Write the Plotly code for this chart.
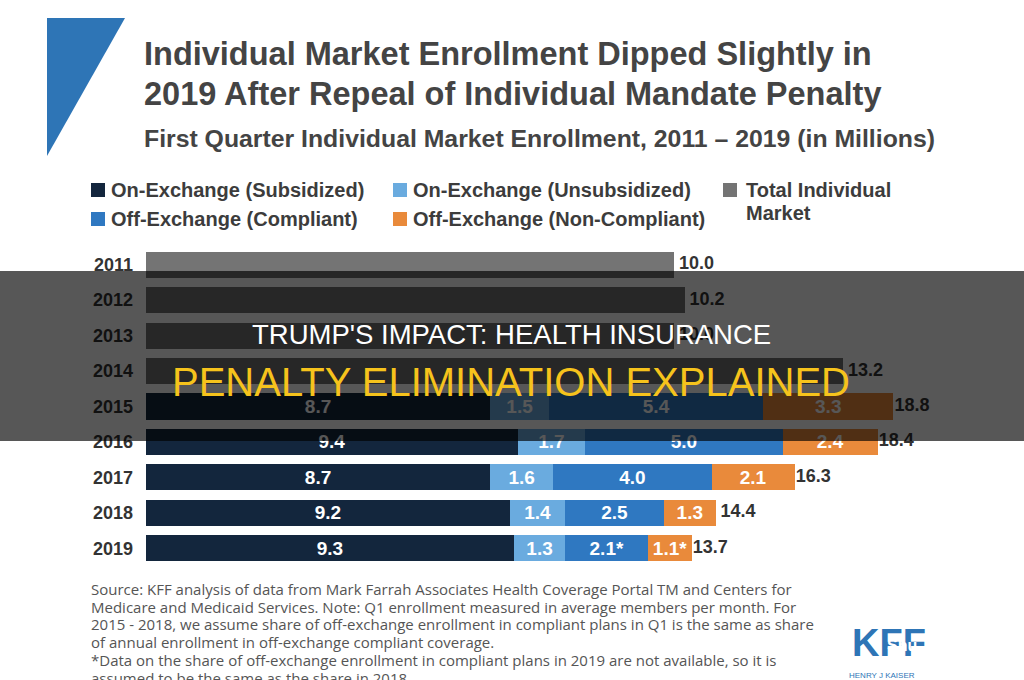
import plotly.graph_objects as go

# ---------------- data ----------------
years = ["2011", "2012", "2013", "2014", "2015", "2016", "2017", "2018", "2019"]
total_only_years = ["2011", "2012", "2013", "2014"]
total_only = [10.0, 10.2, 10.0, 13.2]

stack_years = ["2015", "2016", "2017", "2018", "2019"]
on_sub = [8.7, 9.4, 8.7, 9.2, 9.3]
on_unsub = [1.5, 1.7, 1.6, 1.4, 1.3]
off_comp = [5.4, 5.0, 4.0, 2.5, 2.1]
off_noncomp = [3.3, 2.4, 2.1, 1.3, 1.1]
stack_totals = [18.8, 18.4, 16.3, 14.4, 13.7]
est_flag = ["", "", "", "", "*"]  # 2019 values assumed

series_names = ["On-Exchange (Subsidized)", "On-Exchange (Unsubsidized)",
                "Off-Exchange (Compliant)", "Off-Exchange (Non-Compliant)"]
total_name = "Total Individual Market"

title1 = "Individual Market Enrollment Dipped Slightly in"
title2 = "2019 After Repeal of Individual Mandate Penalty"
subtitle = "First Quarter Individual Market Enrollment, 2011 \u2013 2019 (in Millions)"
notes = [
    "Source: KFF analysis of data from Mark Farrah Associates Health Coverage Portal TM and Centers for",
    "Medicare and Medicaid Services. Note: Q1 enrollment measured in average members per month. For",
    "2015 - 2018, we assume share of off-exchange enrollment in compliant plans in Q1 is the same as share",
    "of annual enrollment in off-exchange compliant coverage.",
    "*Data on the share of off-exchange enrollment in compliant plans in 2019 are not available, so it is",
    "assumed to be the same as the share in 2018.",
]
banner1 = "TRUMP'S IMPACT: HEALTH INSURANCE"
banner2 = "PENALTY ELIMINATION EXPLAINED"

# ---------------- style ----------------
W, H = 1024, 680
L, R, T, B = 146, 78, 247, 114
PW, PH = W - L - R, H - T - B
colors = ["#13263d", "#6aabdf", "#2f78c1", "#e98a3b"]
gray = "#747474"
FONT = "Liberation Sans, Arial, sans-serif"
NOTE_FONT = "Open Sans, Liberation Sans, sans-serif"
NB = "\u00a0"


def px(x):
    return (x - L) / PW


def py(y):
    return 1 - (y - T) / PH


fig = go.Figure()

# gray total bars (own scale, as in the original graphic)
fig.add_trace(go.Bar(
    y=total_only_years, x=total_only, orientation="h", xaxis="x2", yaxis="y",
    marker=dict(color=gray, line=dict(width=0)), name=total_name, showlegend=False,
))
fig.add_trace(go.Scatter(
    y=total_only_years, x=total_only, xaxis="x2", yaxis="y", mode="text",
    text=[f"{NB}{v:.1f}" for v in total_only], textposition="middle right",
    textfont=dict(family=FONT, size=18, color="#333333", weight="bold"),
    showlegend=False, cliponaxis=False,
))

stack_vals = [on_sub, on_unsub, off_comp, off_noncomp]
for i, (name, vals) in enumerate(zip(series_names, stack_vals)):
    if i >= 2:
        labels = [f"{v:.1f}{f}" for v, f in zip(vals, est_flag)]
    else:
        labels = [f"{v:.1f}" for v in vals]
    fig.add_trace(go.Bar(
        y=stack_years, x=vals, orientation="h", xaxis="x", yaxis="y",
        marker=dict(color=colors[i], line=dict(width=0)), name=name,
        text=labels, textposition="inside", insidetextanchor="middle",
        textangle=0, constraintext="none",
        textfont=dict(family=FONT, size=19, color="white", weight="bold"),
        showlegend=False,
    ))

fig.add_trace(go.Scatter(
    y=stack_years, x=stack_totals, xaxis="x", yaxis="y", mode="text",
    text=[f"{NB}{v:.1f}" for v in stack_totals], textposition="middle right",
    textfont=dict(family=FONT, size=18, color="#333333", weight="bold"),
    showlegend=False, cliponaxis=False,
))

shapes = []
annotations = []

# blue triangle
shapes.append(dict(
    type="path", xref="paper", yref="paper",
    path=f"M {px(47)},{py(18)} L {px(125)},{py(18)} L {px(47)},{py(156)} Z",
    fillcolor="#2e75b6", line=dict(width=0),
))

# titles
annotations.append(dict(text=f"<b>{title1}</b>", xref="paper", yref="paper",
                        x=px(142), y=py(54), xanchor="left", yanchor="middle", showarrow=False,
                        font=dict(family=FONT, size=32.5, color="#444444")))
annotations.append(dict(text=f"<b>{title2}</b>", xref="paper", yref="paper",
                        x=px(142), y=py(94), xanchor="left", yanchor="middle", showarrow=False,
                        font=dict(family=FONT, size=32.5, color="#444444")))
annotations.append(dict(text=f"<b>{subtitle}</b>", xref="paper", yref="paper",
                        x=px(142), y=py(138), xanchor="left", yanchor="middle", showarrow=False,
                        font=dict(family=FONT, size=24.8, color="#444444")))

# legend (manual)
legend_items = [
    (series_names[0], colors[0], 91, 190),
    (series_names[1], colors[1], 393, 190),
    (series_names[2], colors[2], 91, 219),
    (series_names[3], colors[3], 393, 219),
]
for name, col, lx, ly in legend_items:
    shapes.append(dict(type="rect", xref="paper", yref="paper",
                       x0=px(lx), x1=px(lx + 14), y0=py(ly - 7), y1=py(ly + 7),
                       fillcolor=col, line=dict(width=0)))
    annotations.append(dict(text=f"<b>{name}</b>", xref="paper", yref="paper",
                            x=px(lx + 18), y=py(ly), xanchor="left", yanchor="middle",
                            showarrow=False, font=dict(family=FONT, size=20, color="#3c3c3c")))
shapes.append(dict(type="rect", xref="paper", yref="paper",
                   x0=px(723), x1=px(737), y0=py(183), y1=py(197),
                   fillcolor=gray, line=dict(width=0)))
annotations.append(dict(text="<b>Total Individual</b>", xref="paper", yref="paper",
                        x=px(744), y=py(190), xanchor="left", yanchor="middle",
                        showarrow=False, font=dict(family=FONT, size=20, color="#3c3c3c")))
annotations.append(dict(text="<b>Market</b>", xref="paper", yref="paper",
                        x=px(744), y=py(213), xanchor="left", yanchor="middle",
                        showarrow=False, font=dict(family=FONT, size=20, color="#3c3c3c")))

# footnotes
for i, line in enumerate(notes):
    annotations.append(dict(text=line, xref="paper", yref="paper",
                            x=px(89), y=py(589 + i * 17.7), xanchor="left", yanchor="middle",
                            showarrow=False, font=dict(family=NOTE_FONT, size=15, color="#555555")))

# KFF logo
annotations.append(dict(text="<b>KFF</b>", xref="paper", yref="paper",
                        x=px(889), y=py(643), xanchor="center", yanchor="middle",
                        showarrow=False, font=dict(family=FONT, size=38, color="#2e75b6")))
annotations.append(dict(text="<b>Shu</b>", xref="paper", yref="paper",
                        x=px(902), y=py(645), xanchor="center", yanchor="middle",
                        showarrow=False, font=dict(family=FONT, size=16, color="white")))
annotations.append(dict(text="HENRY J KAISER", xref="paper", yref="paper",
                        x=px(847), y=py(675), xanchor="left", yanchor="middle",
                        showarrow=False, font=dict(family=FONT, size=8, color="#2e75b6")))

# dark banner band over the chart
shapes.append(dict(type="rect", xref="paper", yref="paper", layer="above",
                   x0=px(0), x1=px(W), y0=py(441), y1=py(271),
                   fillcolor="rgba(0,0,0,0.66)", line=dict(width=0)))
annotations.append(dict(text=banner1, xref="paper", yref="paper",
                        x=px(511), y=py(334), xanchor="center", yanchor="middle",
                        showarrow=False, font=dict(family=FONT, size=27.5, color="white")))
annotations.append(dict(text=banner2, xref="paper", yref="paper",
                        x=px(511), y=py(382), xanchor="center", yanchor="middle",
                        showarrow=False, font=dict(family=FONT, size=40, color="#f6c31c")))

fig.update_layout(
    width=W, height=H,
    margin=dict(l=L, r=R, t=T, b=B),
    paper_bgcolor="white", plot_bgcolor="white",
    barmode="stack", bargap=0.265,
    showlegend=False,
    xaxis=dict(range=[0, PW / 39.55], visible=False, fixedrange=True),
    xaxis2=dict(range=[0, PW / 52.8], visible=False, overlaying="x", fixedrange=True),
    yaxis=dict(categoryorder="array", categoryarray=years, autorange="reversed",
               showgrid=False, zeroline=False, showline=False, ticks="",
               ticklabelstandoff=12,
               tickfont=dict(family=FONT, size=18, color="#333333", weight="bold")),
    shapes=shapes,
    annotations=annotations,
)

fig.write_html("out.html")
